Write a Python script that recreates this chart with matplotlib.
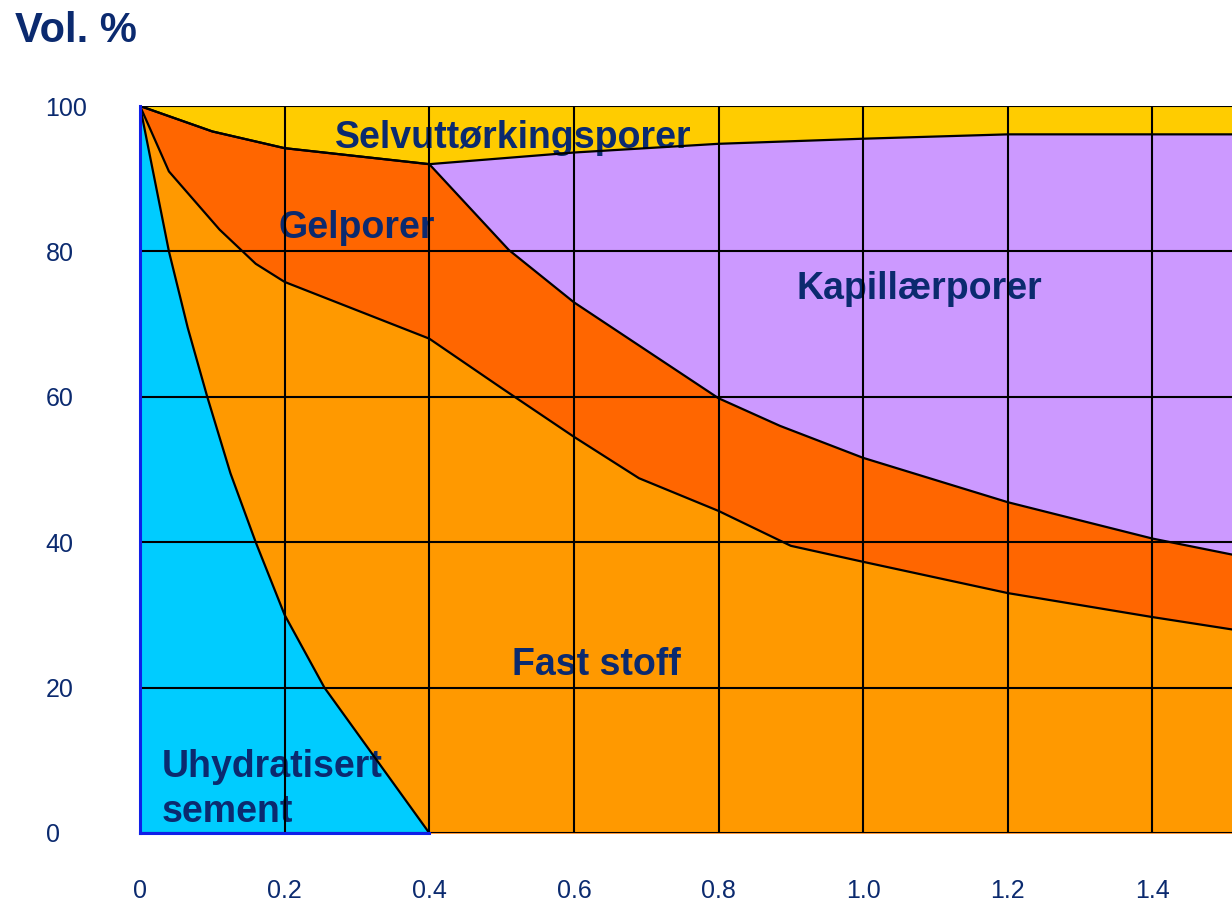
import matplotlib.pyplot as plt

NAVY = '#0B2A6F'
EDGE_BLUE = '#1020E8'

# volume fractions (cumulative %) vs w/c ratio
x_cement = [0, 0.04, 0.066, 0.093, 0.125, 0.16, 0.2, 0.255, 0.4]
y_cement = [100, 80, 69.5, 60, 49.5, 40, 30, 20, 0]

x_solid = [0, 0.04, 0.11, 0.16, 0.2, 0.4, 0.5, 0.6, 0.69, 0.8, 0.9, 1.0, 1.2, 1.4, 1.51]
y_solid = [100, 91, 83, 78.3, 75.8, 68, 61.2, 54.5, 48.8, 44.3, 39.5, 37.3, 33, 29.7, 28]

x_gel = [0, 0.1, 0.2, 0.4, 0.51, 0.6, 0.7, 0.8, 0.885, 1.0, 1.2, 1.4, 1.51]
y_gel = [100, 96.5, 94.2, 92, 80.2, 73, 66.4, 59.8, 56, 51.6, 45.5, 40.5, 38.3]

x_cap = [0, 0.1, 0.2, 0.4, 0.6, 0.8, 1.0, 1.2, 1.4, 1.51]
y_cap = [100, 96.5, 94.2, 92, 93.6, 94.8, 95.5, 96.1, 96.1, 96.1]

xticks = [0, 0.2, 0.4, 0.6, 0.8, 1.0, 1.2, 1.4]
xlabels = ['0', '0.2', '0.4', '0.6', '0.8', '1.0', '1.2', '1.4']
yticks = [0, 20, 40, 60, 80, 100]

plt.rcParams['font.family'] = ['Liberation Sans', 'DejaVu Sans']

fig = plt.figure(figsize=(12.32, 9.06), dpi=100)
ax = fig.add_axes([140 / 1232, 73 / 906, 1092 / 1232, 727 / 906])
ax.set_xlim(0, 1.51)
ax.set_ylim(0, 100)

# stacked layers, painted from the top region down
ax.fill_between([0, 1.51], [100, 100], 0, color='#FFCC00', lw=0, zorder=1)
ax.fill_between(x_cap, y_cap, 0, color='#CC99FF', lw=0, zorder=1.1)
ax.fill_between(x_gel, y_gel, 0, color='#FF6600', lw=0, zorder=1.2)
ax.fill_between(x_solid, y_solid, 0, color='#FF9900', lw=0, zorder=1.3)
ax.fill_between(x_cement, y_cement, 0, color='#00CCFF', lw=0, zorder=1.4)

for xs, ys in [(x_cap, y_cap), (x_gel, y_gel), (x_solid, y_solid), (x_cement, y_cement)]:
    ax.plot(xs, ys, color='black', lw=1.6, zorder=4)

ax.set_xticks(xticks)
ax.set_xticklabels(xlabels)
ax.set_yticks(yticks)
ax.grid(True, color='black', lw=1.5, zorder=3)
ax.set_axisbelow(False)
for s in ax.spines.values():
    s.set_visible(False)

# blue frame edge along the cement region
ax.plot([0, 0], [0, 100], color=EDGE_BLUE, lw=2.2, zorder=5, clip_on=False)
ax.plot([0, 0.4], [0, 0], color=EDGE_BLUE, lw=2.2, zorder=5, clip_on=False)

ax.tick_params(axis='both', length=0, labelcolor=NAVY, labelsize=18)
ax.tick_params(axis='x', pad=33)
ax.tick_params(axis='y', pad=68)
for lab in ax.get_yticklabels():
    lab.set_horizontalalignment('left')

txt = dict(fontsize=27, fontweight='bold', color=NAVY, zorder=2.5, va='baseline', ha='left')
ax.text(0.27, 94.2, 'Selvuttørkingsporer', **txt)
ax.text(0.191, 81.8, 'Gelporer', **txt)
ax.text(0.908, 73.5, 'Kapillærporer', **txt)
ax.text(0.515, 21.7, 'Fast stoff', **txt)
ax.text(0.030, 7.7, 'Uhydratisert', **txt)
ax.text(0.030, 1.5, 'sement', **txt)

fig.text(15 / 1232, 1 - 42 / 906, 'Vol. %', fontsize=30, fontweight='bold', color=NAVY,
         ha='left', va='baseline')

fig.savefig('out.png', dpi=100)
